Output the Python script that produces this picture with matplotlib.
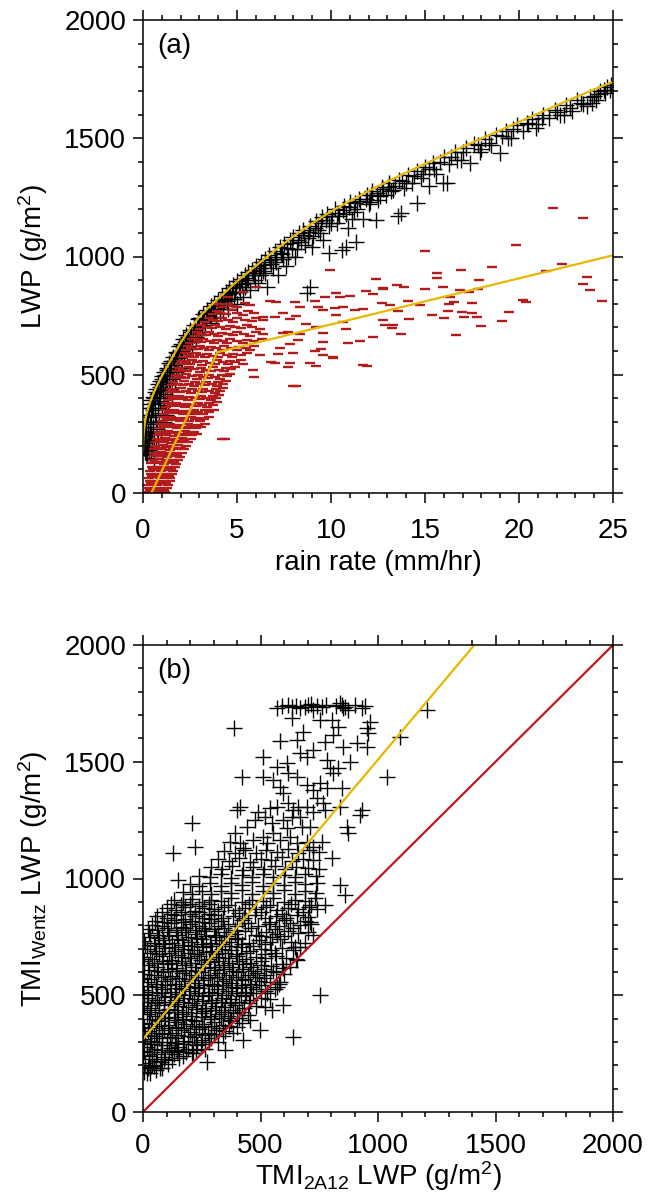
import numpy as np
import matplotlib
matplotlib.use("Agg")
import matplotlib.pyplot as plt
from matplotlib.ticker import MultipleLocator

plt.rcParams['font.family'] = ['Liberation Sans', 'DejaVu Sans']
plt.rcParams['mathtext.fontset'] = 'custom'
plt.rcParams['mathtext.rm'] = 'Liberation Sans'
plt.rcParams['mathtext.it'] = 'Liberation Sans:italic'

# ---------------- panel (a): LWP vs rain rate ----------------
# fitted curve for the Wentz points
fit_rr = [0, 0.01, 0.04, 0.1, 0.2, 0.35, 0.5, 0.75, 1.0, 1.5, 2.0, 2.5, 3.0, 3.5,
          4.0, 5.0, 6.0, 7.0, 8.0, 9.0, 10.0, 11.0, 12.0, 13.0, 14.0, 15.0, 16.0,
          17.0, 18.0, 19.0, 20.0, 21.0, 22.0, 23.0, 24.0, 25.0]
fit_lwp = [180, 215, 255, 298, 338, 378, 410, 455, 495, 565, 635, 695, 745, 785,
           822, 895, 960, 1025, 1085, 1140, 1190, 1235, 1277, 1317, 1355, 1392, 1428,
           1464, 1499, 1534, 1569, 1604, 1639, 1673, 1706, 1739]

# piecewise fit for the 2A12 points
fit2_rr = [0.45, 3.95, 25.0]
fit2_lwp = [0, 595, 1005]

wentz_a = [
    (0.05, 190), (0.06, 230), (0.08, 260), (0.05, 262), (0.1, 280), (0.12, 300), (0.1, 210),
    (0.15, 170), (0.14, 240), (0.18, 300), (0.2, 330), (0.2, 200), (0.22, 160), (0.25, 260),
    (0.28, 330), (0.3, 360), (0.3, 180), (0.32, 220), (0.35, 290), (0.38, 375), (0.4, 160),
    (0.42, 250), (0.45, 320), (0.45, 395), (0.5, 190), (0.5, 360), (0.52, 405), (0.55, 280),
    (0.58, 150), (0.6, 230), (0.6, 400), (0.62, 425), (0.65, 330), (0.7, 190), (0.7, 440),
    (0.72, 270), (0.75, 420), (0.78, 360), (0.8, 460), (0.82, 220), (0.85, 300), (0.88, 450),
    (0.9, 475), (0.92, 390), (0.95, 260), (1.0, 340), (1.0, 480), (1.02, 495), (1.05, 430),
    (1.1, 300), (1.1, 510), (1.12, 380), (1.15, 500), (1.2, 460), (1.2, 330), (1.25, 530),
    (1.28, 410), (1.3, 520), (1.35, 370), (1.38, 550), (1.4, 480), (1.45, 440), (1.5, 560),
    (1.5, 540), (1.55, 400), (1.6, 500), (1.62, 575), (1.7, 560), (1.72, 460), (1.75, 595),
    (1.8, 590), (1.85, 520), (1.9, 620), (1.95, 600), (2.0, 560), (2.0, 630), (2.1, 620),
    (2.15, 650), (2.2, 580), (2.25, 640), (2.3, 668), (2.4, 660), (2.45, 610), (2.5, 690),
    (2.55, 680), (2.6, 640), (2.7, 712), (2.75, 690), (2.8, 660), (2.9, 735), (3.0, 710),
    (3.0, 742), (3.1, 680), (3.2, 755), (3.25, 730), (3.3, 700), (3.4, 775), (3.5, 760),
    (3.6, 790), (3.6, 720), (3.7, 770), (3.8, 805), (3.9, 745), (4.0, 818), (4.0, 790),
    (4.1, 760), (4.2, 835), (4.3, 810), (4.4, 850), (4.5, 780), (4.5, 840), (4.6, 865),
    (4.7, 820), (4.8, 880), (4.9, 850), (5.0, 895), (5.0, 800), (5.1, 870), (5.2, 905),
    (5.3, 830), (5.4, 920), (5.5, 890), (5.6, 935), (5.7, 860), (5.8, 945), (5.9, 920),
    (6.0, 958), (6.1, 890), (6.2, 950), (6.3, 975), (6.5, 990), (6.5, 930), (6.6, 870),
    (6.7, 1005), (6.8, 970), (7.0, 1022), (7.0, 990), (7.2, 920), (7.3, 1040), (7.4, 1010),
    (7.5, 1052), (7.6, 960), (7.8, 1070), (7.9, 1030), (8.0, 1082), (8.1, 1000), (8.3, 1100),
    (8.4, 1060), (8.5, 1110), (8.7, 845), (8.8, 1080), (8.9, 1130), (8.9, 872), (9.0, 1040),
    (9.2, 1150), (9.3, 1110), (9.5, 1165), (9.6, 1070), (9.8, 1180), (9.9, 1016), (10.0, 1140),
    (10.2, 1200), (10.4, 1170), (10.6, 1027), (10.7, 1215), (10.8, 1041), (10.9, 1120),
    (11.0, 1230), (11.2, 1190), (11.35, 1063), (11.5, 1245), (11.7, 1160), (11.9, 1260),
    (12.0, 1220), (12.2, 1275), (12.4, 1154), (12.5, 1240), (12.7, 1295), (12.9, 1260),
    (13.1, 1310), (13.3, 1280), (13.58, 1171), (13.6, 1325), (13.7, 1183), (13.9, 1290),
    (14.1, 1345), (14.3, 1310), (14.56, 1225), (14.6, 1360), (14.8, 1330), (15.0, 1380),
    (15.2, 1300), (15.4, 1395), (15.6, 1350), (15.97, 1312), (16.0, 1420), (16.15, 1309),
    (16.3, 1390), (16.6, 1440), (16.9, 1410), (17.2, 1460), (17.39, 1394), (17.6, 1475),
    (17.9, 1440), (18.2, 1495), (18.5, 1470), (18.8, 1515), (19.0, 1436), (19.3, 1530),
    (19.6, 1500), (19.9, 1555), (20.2, 1530), (20.41, 1563), (20.7, 1580), (21.0, 1560),
    (21.3, 1600), (21.6, 1585), (21.9, 1620), (22.2, 1600), (22.5, 1640), (22.8, 1615),
    (23.1, 1660), (23.4, 1645), (23.6, 1636), (23.8, 1675), (24.1, 1660), (24.3, 1700),
    (24.6, 1690), (24.84, 1704), (24.9, 1725), (24.7, 1715), (24.2, 1685),
    (2.05, 600), (2.35, 640), (2.65, 670), (2.95, 700), (3.15, 735), (3.45, 760), (3.75, 780),
    (4.05, 800), (4.35, 820), (4.65, 845), (4.95, 870), (5.25, 885), (5.55, 910), (5.85, 930),
    (6.15, 950), (6.45, 965), (6.75, 985), (7.05, 1000), (7.35, 1015), (7.65, 1035),
    (7.95, 1055), (8.25, 1070), (8.55, 1090), (8.85, 1105), (9.15, 1120), (9.45, 1140),
    (9.75, 1155), (10.05, 1170), (10.35, 1185), (10.65, 1195), (10.95, 1210), (11.25, 1225),
    (11.55, 1235), (11.85, 1245), (12.15, 1260), (12.45, 1270), (12.75, 1285), (13.05, 1295),
    (13.4, 1300), (13.8, 1320), (14.4, 1340), (15.2, 1370), (15.8, 1400), (16.4, 1420),
    (17.0, 1440), (17.8, 1470), (18.4, 1480), (19.1, 1510), (19.7, 1540), (20.5, 1560),
    (21.2, 1585), (22.0, 1610), (22.7, 1630), (23.3, 1650), (24.0, 1680), (24.5, 1705),
    (0.08, 175), (0.25, 200), (0.35, 250), (0.48, 230), (0.55, 350), (0.65, 380), (0.68, 300),
    (0.85, 400), (0.98, 440), (1.08, 460), (1.18, 420), (1.3, 470), (1.42, 520), (1.55, 480),
    (1.65, 540), (1.78, 510), (1.88, 570), (2.05, 530), (2.2, 610), (2.35, 590), (2.5, 650),
    (2.62, 620), (2.85, 700), (2.95, 670), (3.15, 710), (3.35, 740), (3.55, 740), (3.65, 760),
    (3.85, 780), (4.15, 800), (4.25, 780), (4.45, 810), (4.75, 850), (4.85, 820), (5.15, 850),
    (5.45, 870), (5.6, 900), (5.95, 900), (6.25, 920), (6.4, 940), (6.9, 950), (7.1, 975),
    (7.45, 990), (7.7, 1000), (8.2, 1030), (8.6, 1050), (9.05, 1085), (9.4, 1100), (9.9, 1130),
    (10.3, 1140), (10.8, 1180), (11.1, 1160), (11.4, 1200), (12.05, 1230), (12.6, 1255),
    (13.2, 1275), (14.0, 1310), (14.9, 1350), (15.5, 1370), (16.7, 1410), (18.0, 1455),
    (19.4, 1500), (20.9, 1545), (22.4, 1600), (23.9, 1650),
]

tmi_a = [
    # dense band
    (0.25, 5), (0.45, 8), (0.72, 3), (0.93, 6), (1.16, 4),
    (0.31, 20), (0.56, 18), (0.8, 22), (1.04, 19), (1.27, 21),
    (0.28, 35), (0.52, 37), (0.74, 33), (1.0, 36), (1.31, 34),
    (0.36, 50), (0.6, 52), (0.86, 48), (1.14, 51), (1.41, 49),
    (0.33, 65), (0.57, 67), (0.9, 63), (1.21, 66), (1.46, 64),
    (0.4, 80), (0.71, 82), (1.01, 78), (1.3, 81), (1.56, 79),
    (0.38, 95), (0.66, 97), (0.96, 93), (1.26, 96), (1.61, 94),
    (0.46, 110), (0.76, 112), (1.06, 108), (1.36, 111), (1.71, 109),
    (0.43, 125), (0.81, 127), (1.12, 123), (1.46, 126), (1.76, 124),
    (0.51, 140), (0.86, 142), (1.2, 138), (1.56, 141), (1.86, 139),
    (0.56, 155), (0.91, 157), (1.26, 153), (1.61, 156), (1.96, 154),
    (0.61, 170), (0.96, 172), (1.32, 168), (1.7, 171), (2.06, 169),
    (0.59, 185), (1.01, 187), (1.41, 183), (1.81, 186), (2.16, 184),
    (0.66, 200), (1.06, 202), (1.46, 198), (1.86, 201), (2.31, 199),
    (0.71, 215), (1.11, 217), (1.51, 213), (1.96, 216), (2.41, 214),
    (0.76, 230), (1.16, 232), (1.61, 228), (2.06, 231), (2.56, 229),
    (0.81, 245), (1.21, 247), (1.66, 243), (2.11, 246), (2.61, 244), (2.86, 248),
    (0.86, 260), (1.31, 262), (1.76, 258), (2.21, 261), (2.71, 259),
    (0.91, 275), (1.36, 277), (1.81, 273), (2.31, 276), (2.81, 274), (3.11, 278),
    (0.96, 290), (1.41, 292), (1.91, 288), (2.41, 291), (2.91, 289), (3.31, 293),
    (1.01, 305), (1.46, 307), (1.96, 303), (2.46, 306), (3.01, 304),
    (1.06, 320), (1.51, 322), (2.01, 318), (2.56, 321), (3.11, 319), (3.51, 323),
    (1.11, 335), (1.61, 337), (2.11, 333), (2.66, 336), (3.21, 334),
    (1.16, 350), (1.66, 352), (2.16, 348), (2.71, 351), (3.31, 349), (3.76, 353),
    (1.21, 365), (1.71, 367), (2.26, 363), (2.81, 366), (3.41, 364),
    (1.26, 380), (1.76, 382), (2.31, 378), (2.91, 381), (3.51, 379), (3.91, 383),
    (1.31, 395), (1.86, 397), (2.41, 393), (3.01, 396), (3.61, 394),
    (1.36, 410), (1.91, 412), (2.46, 408), (3.06, 411), (3.71, 409), (4.06, 413),
    (1.41, 425), (1.96, 427), (2.56, 423), (3.16, 426), (3.81, 424),
    (1.51, 440), (2.01, 442), (2.61, 438), (3.21, 441), (3.86, 439), (4.26, 443),
    (1.56, 455), (2.11, 457), (2.71, 453), (3.31, 456), (3.91, 454),
    (1.61, 470), (2.16, 472), (2.76, 468), (3.36, 471), (4.01, 469), (4.41, 473),
    (1.71, 485), (2.21, 487), (2.86, 483), (3.46, 486), (4.11, 484),
    (1.76, 500), (2.31, 502), (2.91, 498), (3.51, 501), (4.21, 499), (4.61, 503),
    (1.81, 515), (2.36, 517), (3.01, 513), (3.61, 516), (4.31, 514),
    (1.91, 530), (2.46, 532), (3.06, 528), (3.71, 531), (4.41, 529), (4.91, 533),
    (1.96, 545), (2.51, 547), (3.16, 543), (3.81, 546), (4.51, 544),
    (2.06, 560), (2.61, 562), (3.21, 558), (3.91, 561), (4.61, 559), (5.21, 563),
    (2.11, 575), (2.71, 577), (3.31, 573), (4.01, 576), (4.71, 574),
    (2.21, 590), (2.81, 592), (3.41, 588), (4.11, 591), (4.81, 589), (5.51, 593),
    (2.31, 605), (2.91, 607), (3.51, 603), (4.21, 606), (5.01, 604),
    (2.41, 620), (3.01, 622), (3.61, 618), (4.31, 621), (5.11, 619), (5.91, 623),
    (2.51, 635), (3.11, 637), (3.76, 633), (4.46, 636), (5.31, 634),
    (2.61, 650), (3.21, 652), (3.91, 648), (4.61, 651), (5.51, 649), (6.31, 653),
    (2.76, 665), (3.36, 667), (4.01, 663), (4.81, 666), (5.71, 664),
    (2.86, 680), (3.51, 682), (4.21, 678), (5.01, 681), (6.01, 679),
    (3.01, 695), (3.66, 697), (4.41, 693), (5.21, 696), (6.21, 694),
    (3.11, 710), (3.81, 712), (4.61, 708), (5.51, 711),
    (3.31, 725), (4.01, 727), (4.81, 723), (5.81, 726),
    (3.51, 740), (4.21, 742), (5.01, 738), (6.01, 741),
    (3.71, 755), (4.41, 757), (5.31, 753),
    (3.91, 770), (4.71, 772), (5.61, 768),
    (4.21, 785), (5.01, 787), (4.51, 800), (5.41, 802),
    (4.5, 830), (5.3, 850), (6.0, 870), (4.0, 800),
    # in-between rows of the dense band
    (0.35, 12), (0.6, 13), (0.85, 11), (1.1, 12),
    (0.42, 42), (0.65, 43), (0.9, 41), (1.2, 42),
    (0.46, 72), (0.78, 73), (1.1, 71), (1.38, 72),
    (0.52, 102), (0.85, 103), (1.15, 101), (1.5, 102),
    (0.62, 132), (0.98, 133), (1.32, 131), (1.65, 132),
    (0.75, 162), (1.1, 163), (1.45, 161), (1.8, 162),
    (0.82, 192), (1.22, 193), (1.62, 191), (2.0, 192),
    (0.92, 222), (1.32, 223), (1.75, 221), (2.2, 222),
    (1.0, 252), (1.45, 253), (1.9, 251), (2.38, 252),
    (1.12, 282), (1.58, 283), (2.05, 281), (2.55, 282), (2.95, 283),
    (1.25, 312), (1.72, 313), (2.2, 311), (2.75, 312), (3.25, 313),
    (1.38, 342), (1.88, 343), (2.4, 341), (2.95, 342), (3.5, 343),
    (1.5, 372), (2.0, 373), (2.55, 371), (3.15, 372), (3.7, 373),
    (1.6, 402), (2.15, 403), (2.75, 401), (3.35, 402), (3.9, 403),
    (1.72, 432), (2.28, 433), (2.9, 431), (3.5, 432), (4.1, 433),
    (1.88, 462), (2.45, 463), (3.05, 461), (3.65, 462), (4.25, 463),
    (2.0, 492), (2.6, 493), (3.2, 491), (3.85, 492), (4.45, 493),
    (2.12, 522), (2.72, 523), (3.35, 521), (4.05, 522), (4.7, 523),
    (2.28, 552), (2.88, 553), (3.55, 551), (4.25, 552), (4.9, 553),
    (2.45, 582), (3.05, 583), (3.7, 581), (4.45, 582), (5.2, 583),
    (2.6, 612), (3.25, 613), (3.9, 611), (4.7, 612), (5.5, 613),
    (2.9, 642), (3.55, 643), (4.25, 641), (5.0, 642), (5.9, 643),
    (3.1, 672), (3.75, 673), (4.5, 671), (5.35, 672), (6.4, 673),
    (3.4, 702), (4.1, 703), (4.9, 701), (5.8, 702),
    (3.7, 732), (4.5, 733), (5.4, 731), (6.4, 732),
    (4.1, 762), (5.0, 763), (5.9, 761), (4.8, 792), (5.7, 793),
    # scattered points
    (4.18, 227), (4.36, 228), (8.0, 452), (8.13, 452), (5.9, 492), (7.69, 531), (7.0, 549),
    (9.46, 609), (10.1, 576), (11.9, 537),
    (9.93, 943), (12.41, 906), (12.77, 865), (11.88, 854), (12.23, 840), (10.28, 847),
    (9.66, 830), (10.46, 827), (10.99, 834), (9.13, 812), (6.74, 813), (7.09, 809),
    (8.07, 806), (8.33, 788), (9.31, 785), (10.2, 782), (10.64, 788), (9.57, 774),
    (11.26, 775), (11.7, 779), (10.28, 753), (7.45, 760), (8.16, 748), (6.38, 745),
    (7.0, 743), (7.8, 734), (8.69, 715), (9.22, 703), (10.64, 723), (7.45, 675),
    (7.71, 682), (8.33, 672), (9.57, 675), (10.82, 692), (12.23, 661), (11.52, 643),
    (10.9, 636), (9.57, 638), (8.24, 647), (7.8, 629), (7.27, 612), (7.98, 591),
    (9.13, 602), (9.57, 583), (10.11, 569), (8.87, 548), (7.8, 551), (6.83, 555),
    (7.18, 586), (11.7, 541), (9.22, 537), (6.21, 583), (5.67, 605), (5.32, 545),
    (5.85, 520),
    (21.83, 1205), (23.42, 1164), (19.84, 1050), (15.0, 1024), (22.3, 968), (21.44, 940),
    (18.55, 954), (16.9, 943), (15.62, 929), (15.62, 910), (17.89, 902), (23.62, 913),
    (23.4, 885), (23.79, 860), (24.41, 813), (12.78, 864), (13.49, 878), (13.88, 871),
    (15.0, 864), (15.97, 871), (16.86, 858), (17.8, 864), (17.36, 851), (16.33, 827),
    (16.54, 808), (16.28, 800), (17.48, 802), (14.11, 813), (14.73, 796), (13.14, 795),
    (12.7, 803), (13.58, 768), (16.24, 771), (16.95, 765), (17.48, 760), (17.77, 744),
    (17.07, 743), (15.36, 751), (16.01, 741), (14.15, 737), (12.78, 733), (12.87, 712),
    (13.32, 712), (13.26, 696), (13.72, 674), (16.63, 668), (17.96, 707), (19.11, 727),
    (19.47, 765), (20.2, 816), (20.37, 808),
]

# ---------------- panel (b): TMI Wentz vs TMI 2A12 ----------------
fit_b_x = [0, 1410]
fit_b_y = [312, 2000]
one_to_one = [0, 2000]

lwp_b = [
    (5, 172), (30, 165), (55, 180),
    (10, 210), (40, 200), (75, 215), (105, 205),
    (0, 245), (25, 238), (60, 250), (95, 235), (130, 248), (170, 240), (210, 252),
    (15, 280), (45, 270), (80, 285), (120, 272), (150, 280), (190, 268), (230, 285), (265, 270),
    (5, 312), (35, 305), (70, 318), (100, 300), (140, 315), (175, 305), (215, 320), (250, 308),
    (290, 315), (320, 300),
    (20, 348), (55, 340), (90, 352), (125, 338), (160, 350), (200, 342), (240, 355), (275, 340),
    (310, 350), (350, 345), (385, 340),
    (0, 382), (40, 375), (75, 388), (110, 372), (150, 385), (185, 378), (225, 390), (260, 375),
    (300, 385), (340, 372), (375, 388), (420, 380),
    (15, 418), (50, 410), (90, 422), (130, 408), (165, 420), (205, 412), (245, 425), (285, 410),
    (325, 420), (360, 412), (400, 425), (445, 415),
    (5, 452), (35, 445), (70, 458), (110, 442), (150, 455), (190, 448), (230, 460), (270, 445),
    (310, 455), (350, 448), (390, 460), (430, 445), (480, 455), (520, 448),
    (20, 488), (60, 480), (95, 492), (135, 478), (175, 490), (215, 482), (255, 495), (295, 480),
    (335, 490), (375, 482), (415, 495), (455, 480), (500, 490), (540, 485),
    (0, 522), (40, 515), (80, 528), (120, 512), (160, 525), (200, 518), (240, 530), (280, 515),
    (320, 525), (360, 518), (400, 530), (440, 515), (480, 525), (520, 518), (560, 528),
    (15, 558), (55, 550), (95, 562), (135, 548), (175, 560), (215, 552), (255, 565), (295, 550),
    (335, 560), (375, 552), (415, 565), (455, 550), (495, 560), (540, 555), (580, 548),
    (5, 592), (45, 585), (85, 598), (125, 582), (165, 595), (205, 588), (245, 600), (285, 585),
    (325, 595), (365, 588), (405, 600), (445, 585), (485, 595), (525, 588), (565, 598), (600, 590),
    (20, 628), (60, 620), (100, 632), (140, 618), (180, 630), (220, 622), (260, 635), (300, 620),
    (340, 630), (380, 622), (420, 635), (460, 620), (500, 630), (545, 625), (590, 632), (625, 620),
    (0, 662), (40, 655), (80, 668), (120, 652), (160, 665), (200, 658), (240, 670), (280, 655),
    (320, 665), (360, 658), (400, 670), (440, 655), (480, 665), (520, 658), (565, 670), (610, 660),
    (650, 655),
    (15, 698), (55, 690), (95, 702), (135, 688), (175, 700), (215, 692), (255, 705), (295, 690),
    (335, 700), (375, 692), (415, 705), (455, 690), (500, 700), (545, 692), (590, 702), (640, 695),
    (670, 705),
    (5, 732), (45, 725), (85, 738), (125, 722), (165, 735), (205, 728), (245, 740), (285, 725),
    (325, 735), (365, 728), (405, 740), (450, 725), (495, 735), (540, 728), (585, 740), (630, 730),
    (690, 725),
    (25, 768), (65, 760), (105, 772), (145, 758), (185, 770), (225, 762), (265, 775), (305, 760),
    (345, 770), (390, 762), (435, 775), (480, 760), (525, 770), (570, 762), (615, 775), (660, 765),
    (700, 772),
    (40, 802), (80, 795), (120, 808), (160, 792), (200, 805), (240, 798), (280, 810), (320, 795),
    (360, 805), (400, 798), (445, 810), (490, 795), (535, 805), (580, 798), (625, 810), (670, 800),
    (715, 805),
    (60, 838), (100, 830), (140, 842), (180, 828), (220, 840), (260, 832), (300, 845), (340, 830),
    (385, 840), (430, 832), (475, 845), (520, 830), (565, 840), (610, 832), (655, 845), (700, 835),
    (100, 872), (140, 865), (180, 878), (220, 862), (260, 875), (300, 868), (345, 880), (390, 865),
    (435, 875), (480, 868), (525, 880), (570, 865), (615, 875), (660, 868), (705, 880), (740, 870),
    (130, 908), (170, 900), (210, 912), (250, 898), (290, 910), (330, 902), (375, 915), (420, 900),
    (465, 910), (510, 902), (555, 915), (600, 900), (645, 910), (690, 905), (730, 915),
    (170, 942), (210, 935), (250, 948), (290, 932), (330, 945), (375, 938), (420, 950), (465, 935),
    (510, 945), (555, 938), (600, 950), (645, 935), (690, 945), (735, 940),
    (200, 978), (240, 970), (285, 982), (330, 968), (375, 980), (420, 972), (465, 985), (510, 970),
    (555, 980), (600, 972), (645, 985), (690, 975), (740, 980),
    (240, 1012), (285, 1005), (330, 1018), (375, 1002), (420, 1015), (465, 1008), (510, 1020),
    (555, 1005), (600, 1015), (645, 1008), (690, 1020), (735, 1010),
    (290, 1048), (335, 1040), (380, 1052), (425, 1038), (470, 1050), (515, 1042), (560, 1055),
    (605, 1040), (650, 1050), (700, 1045), (750, 1040),
    (320, 1082), (365, 1075), (410, 1088), (455, 1072), (500, 1085), (545, 1078), (590, 1090),
    (635, 1075), (680, 1085), (725, 1080),
    (345, 1118), (390, 1110), (435, 1122), (480, 1108), (525, 1120), (570, 1112), (615, 1125),
    (660, 1110), (705, 1120), (750, 1115),
    # staggered rows filling the dense lower part
    (20, 190), (45, 195), (80, 188),
    (25, 225), (55, 220), (90, 228), (125, 222), (155, 230),
    (5, 260), (40, 255), (75, 265), (110, 258), (145, 262), (185, 255), (225, 265),
    (0, 295), (30, 290), (60, 298), (100, 288), (135, 296), (170, 290), (210, 298), (245, 292),
    (280, 298),
    (10, 330), (45, 325), (80, 332), (115, 322), (150, 330), (190, 325), (225, 335), (265, 328),
    (300, 332), (340, 325),
    (5, 365), (35, 360), (70, 368), (105, 358), (140, 366), (175, 360), (215, 370), (250, 362),
    (290, 368), (325, 360), (365, 368), (400, 362),
    (25, 400), (60, 395), (95, 402), (135, 392), (170, 400), (210, 395), (250, 405), (290, 398),
    (330, 402), (370, 395), (410, 402),
    (0, 435), (30, 430), (70, 438), (105, 428), (145, 436), (185, 430), (225, 440), (265, 432),
    (305, 438), (345, 430), (385, 438), (420, 430),
    (15, 470), (50, 465), (90, 472), (130, 462), (170, 470), (210, 465), (250, 475), (290, 468),
    (330, 472), (370, 465), (410, 472), (450, 465),
    (5, 505), (40, 500), (75, 508), (115, 498), (155, 506), (195, 500), (235, 510), (275, 502),
    (315, 508), (355, 500), (395, 508), (435, 500), (470, 508),
    (20, 540), (60, 535), (100, 542), (140, 532), (180, 540), (220, 535), (260, 545), (300, 538),
    (340, 542), (380, 535), (420, 542), (460, 535), (500, 542),
    (0, 575), (35, 570), (75, 578), (115, 568), (155, 576), (195, 570), (235, 580), (275, 572),
    (315, 578), (355, 570), (395, 578), (435, 570), (475, 578), (515, 572),
    (25, 610), (65, 605), (105, 612), (145, 602), (185, 610), (225, 605), (265, 615), (305, 608),
    (345, 612), (385, 605), (425, 612), (470, 605), (515, 612), (555, 605),
    (5, 645), (45, 640), (85, 648), (125, 638), (165, 646), (205, 640), (245, 650), (285, 642),
    (325, 648), (365, 640), (410, 648), (455, 640), (500, 648),
    (30, 680), (70, 675), (110, 682), (150, 672), (190, 680), (230, 675), (270, 685), (310, 678),
    (350, 682), (395, 675), (440, 682), (520, 675), (560, 682),
    (10, 715), (50, 710), (90, 718), (130, 708), (170, 716), (210, 710), (250, 720), (290, 712),
    (330, 718), (375, 710), (420, 718), (470, 712), (520, 718),
    (30, 750), (70, 745), (110, 752), (150, 742), (190, 750), (230, 745), (270, 755), (310, 748),
    (355, 752), (400, 745), (500, 752), (550, 748), (600, 752),
    (20, 785), (60, 780), (100, 788), (140, 778), (180, 786), (220, 780), (260, 790), (300, 782),
    (345, 788), (390, 780), (460, 788), (560, 782), (640, 788),
    (50, 820), (90, 815), (130, 822), (170, 812), (210, 820), (250, 815), (290, 825), (330, 818),
    (420, 822), (540, 815), (600, 822), (690, 818),
    (80, 855), (120, 850), (160, 858), (200, 848), (240, 856), (280, 850), (320, 860), (410, 852),
    (500, 858), (590, 850), (680, 858),
    (120, 890), (160, 885), (200, 892), (240, 882), (280, 890), (360, 885), (450, 892), (540, 885),
    (630, 890), (715, 888),
    # upper part and outliers
    (389, 1646), (569, 1729), (633, 1736), (668, 1729), (703, 1743), (725, 1722), (760, 1736),
    (838, 1750), (852, 1729), (874, 1722), (931, 1729), (966, 1672), (803, 1679), (831, 1650),
    (753, 1679), (633, 1686), (682, 1629), (654, 1593), (583, 1590), (774, 1586), (810, 1615),
    (852, 1565), (909, 1579), (952, 1565), (959, 1622), (512, 1519), (668, 1536), (697, 1522),
    (725, 1550), (782, 1508), (796, 1472), (810, 1451), (881, 1500), (831, 1472), (569, 1476),
    (611, 1494), (618, 1451), (654, 1436), (420, 1436), (512, 1436), (554, 1422), (583, 1393),
    (597, 1365), (697, 1401), (725, 1379), (753, 1408), (782, 1386), (845, 1386), (739, 1343),
    (767, 1322), (618, 1322), (640, 1293), (661, 1308), (697, 1308), (725, 1286), (569, 1308),
    (540, 1301), (491, 1286), (413, 1308), (398, 1293), (477, 1251), (519, 1265), (548, 1236),
    (597, 1251), (633, 1265), (668, 1265), (611, 1215), (675, 1222), (711, 1222), (774, 1293),
    (838, 1308), (931, 1293), (923, 1272), (867, 1222), (874, 1193), (207, 1236), (221, 1136),
    (129, 1108), (391, 1193), (441, 1222), (370, 1158), (413, 1151), (427, 1129), (469, 1165),
    (512, 1179), (526, 1151), (554, 1193), (583, 1165), (625, 1179), (654, 1151), (697, 1158),
    (725, 1136), (760, 1158),
    (590, 1740), (615, 1745), (650, 1740), (690, 1735), (715, 1748), (740, 1740), (780, 1745),
    (820, 1738), (845, 1745), (860, 1735), (900, 1745), (945, 1740), (1210, 1720), (1094, 1607),
    (1040, 1436), (952, 1645),
    (150, 994), (753, 501), (640, 320), (838, 972), (860, 929), (774, 887), (803, 1087),
    (711, 815), (725, 758), (647, 708), (654, 651), (597, 615), (583, 558), (597, 458),
    (548, 437), (498, 351), (455, 394), (427, 308), (349, 266), (271, 215), (214, 251),
    (143, 266), (72, 187), (30, 194), (16, 166), (526, 508), (569, 537),
]

BLACK = '#000000'
TMI_RED = '#B21C1C'
LINE_RED = '#C0181C'
YELLOW = '#E6B800'


def style_axes(ax, xmajor, xminor, xpad):
    ax.set_ylim(0, 2000)
    ax.xaxis.set_major_locator(MultipleLocator(xmajor))
    ax.xaxis.set_minor_locator(MultipleLocator(xminor))
    ax.yaxis.set_major_locator(MultipleLocator(500))
    ax.yaxis.set_minor_locator(MultipleLocator(100))
    ax.tick_params(which='both', direction='out', top=True, right=True, width=1.1,
                   labelsize=20)
    ax.tick_params(which='major', length=7)
    ax.tick_params(which='minor', length=3.5)
    ax.tick_params(axis='x', pad=xpad)
    ax.tick_params(axis='y', pad=5)
    for s in ax.spines.values():
        s.set_linewidth(1.1)


fig = plt.figure(figsize=(6.48, 11.96), dpi=100)

ax_a = fig.add_axes([143 / 648, 1 - 493 / 1196, 470 / 648, 473 / 1196])
wx, wy = zip(*wentz_a)
tx, ty = zip(*tmi_a)
ax_a.plot(wx, wy, ls='none', marker='+', ms=11, mew=1.0, color=BLACK)
ax_a.plot(tx, ty, ls='none', marker='_', ms=6.5, mew=1.7, color=TMI_RED)
ax_a.plot(fit_rr, fit_lwp, color=YELLOW, lw=1.6)
ax_a.plot(fit2_rr, fit2_lwp, color=YELLOW, lw=1.6)
ax_a.set_xlim(0, 25)
style_axes(ax_a, 5, 1, 11)
ax_a.set_xlabel('rain rate (mm/hr)', fontsize=20, labelpad=4)
ax_a.set_ylabel('LWP (g/m$^2$)', fontsize=20, labelpad=10)
ax_a.text(0.03, 0.945, '(a)', transform=ax_a.transAxes, fontsize=20, va='center')

ax_b = fig.add_axes([143 / 648, 1 - 1112 / 1196, 470 / 648, 467 / 1196])
bx, by = zip(*lwp_b)
ax_b.plot(bx, by, ls='none', marker='+', ms=11, mew=1.0, color=BLACK)
ax_b.plot(fit_b_x, fit_b_y, color=YELLOW, lw=1.6)
ax_b.plot(one_to_one, one_to_one, color=LINE_RED, lw=1.6)
ax_b.set_xlim(0, 2000)
style_axes(ax_b, 500, 100, 8)
ax_b.set_xlabel('TMI$_{\\mathrm{2A12}}$ LWP (g/m$^2$)', fontsize=20, labelpad=0)
ax_b.set_ylabel('TMI$_{\\mathrm{Wentz}}$ LWP (g/m$^2$)', fontsize=20, labelpad=10)
ax_b.text(0.03, 0.945, '(b)', transform=ax_b.transAxes, fontsize=20, va='center')

fig.savefig('out.png', dpi=100)
